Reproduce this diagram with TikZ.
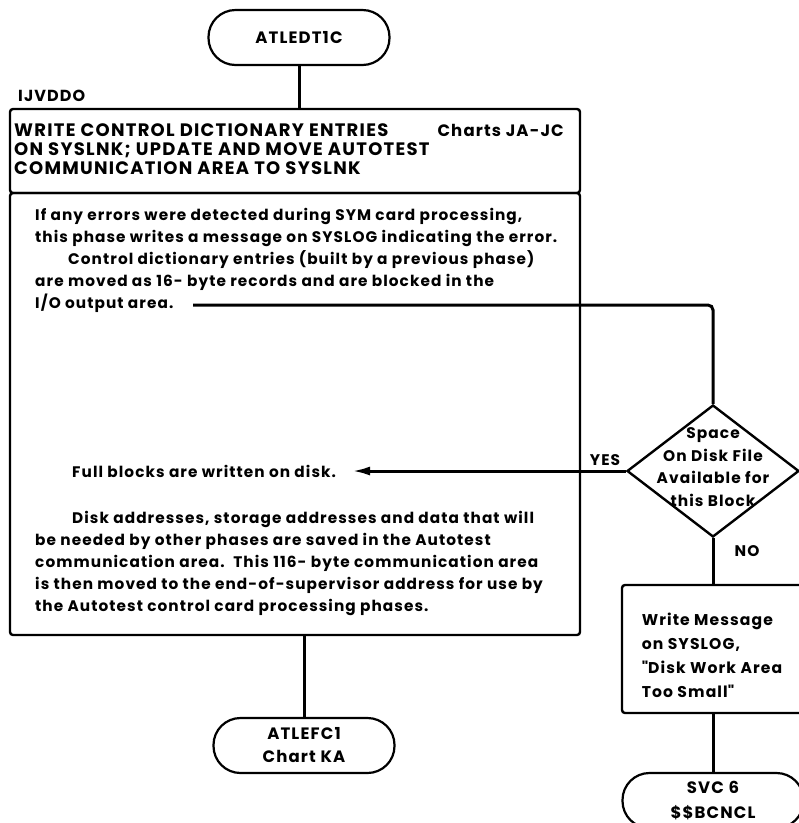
\documentclass[tikz,border=0pt]{standalone}
\usepackage{fontspec}
\setmainfont{Poppins}[LetterSpace=7]
\usetikzlibrary{shapes.geometric,arrows.meta}
\begin{document}
\begin{tikzpicture}[x=1pt,y=-1pt,
  conn/.style={line width=3pt},
  frame/.style={draw,line width=2.4pt,rounded corners=3pt,inner sep=0pt},
  term/.style={draw,line width=2.2pt,rounded corners=27pt,minimum width=181pt,
    minimum height=55pt,inner sep=0pt,align=center,
    font=\bfseries\fontsize{16.5}{23}\selectfont},
  txt/.style={anchor=base west,inner sep=0pt,font=\bfseries\fontsize{15.3}{22}\selectfont},
  hdr/.style={anchor=base west,inner sep=0pt,font=\bfseries\fontsize{18}{19}\selectfont},
  ctr/.style={inner sep=0pt,align=center,font=\bfseries\fontsize{15.4}{22.5}\selectfont},
]
\useasboundingbox (0,0) rectangle (799,823);
\clip (0,0) rectangle (799,823);
\fill[white] (0,0) rectangle (799,823);

% terminals
\node[term] (start) at (299,37.5) {ATLEDT1C};
\node[term] (exitka) at (304,745.5) {ATLEFC1\\Chart KA};
\node[term,font=\bfseries\fontsize{16.5}{25}\selectfont] (cancel) at (713,800.5) {SVC 6\\\$\$BCNCL};

% phase name
\node[hdr,font=\bfseries\fontsize{16}{19}\selectfont] (phase) at (18,101) {IJVDDO};

% main process box: heading and description
\node[frame,minimum width=570pt,minimum height=84pt] (head) at (295,151) {};
\node[frame,minimum width=570pt,minimum height=442pt] (body) at (295,414) {};

\node[hdr] (h1) at (14,136) {WRITE CONTROL DICTIONARY ENTRIES};
\node[hdr] (h2) at (14,155) {ON SYSLNK; UPDATE AND MOVE AUTOTEST};
\node[hdr] (h3) at (14,174) {COMMUNICATION AREA TO SYSLNK};
\node[hdr,anchor=base east,font=\bfseries\fontsize{16.5}{19}\selectfont] (charts) at (564,136) {Charts JA-JC};

\node[txt] (b1) at (35,220) {If any errors were detected during SYM card processing,};
\node[txt] (b2) at (35,242) {this phase writes a message on SYSLOG indicating the error.};
\node[txt] (b3) at (68,264) {Control dictionary entries (built by a previous phase)};
\node[txt] (b4) at (35,286) {are moved as 16- byte records and are blocked in the};
\node[txt] (b5) at (35,308) {I/O output area.};
\coordinate (iostart) at (193,305);

\node[txt] (full) at (72,477) {Full blocks are written on disk.};
\coordinate (fullend) at (352,471);

\node[txt] (d1) at (72,523) {Disk addresses, storage addresses and data that will};
\node[txt] (d2) at (35,545) {be needed by other phases are saved in the Autotest};
\node[txt] (d3) at (35,567) {communication area.\ \ This 116- byte communication area};
\node[txt] (d4) at (35,589) {is then moved to the end-of-supervisor address for use by};
\node[txt] (d5) at (35,611) {the Autotest control card processing phases.};

% decision
\node[draw,shape=diamond,line width=2.4pt,minimum width=172pt,minimum height=132pt,
  inner sep=0pt] (dec) at (713,471) {};
\node[ctr] (dectext) at (713,467) {Space\\On Disk File\\Available for\\this Block};
\node[ctr] (yes) at (605,460) {YES};
\node[ctr] (no) at (747,551) {NO};

% message box
\node[frame,minimum width=182pt,minimum height=128pt] (msg) at (713,649) {};
\node[ctr,align=left,font=\bfseries\fontsize{15.6}{24}\selectfont] (msgtext) at (712,655)
  {Write Message\\on SYSLOG,\\\textquotedbl Disk Work Area\\Too Small\textquotedbl};

% connectors
\draw[conn] (start.south) -- (start.south |- head.north);
\draw[conn] (exitka.north) -- (exitka.north |- body.south);
\draw[conn,rounded corners=5pt] (iostart) -| (dec.north);
\draw[conn,-{Latex[length=18pt,width=9pt]}] (dec.west) -- (fullend);
\draw[conn] (dec.south) -- (msg.north);
\draw[conn] (msg.south) -- (cancel.north);
\end{tikzpicture}
\end{document}
